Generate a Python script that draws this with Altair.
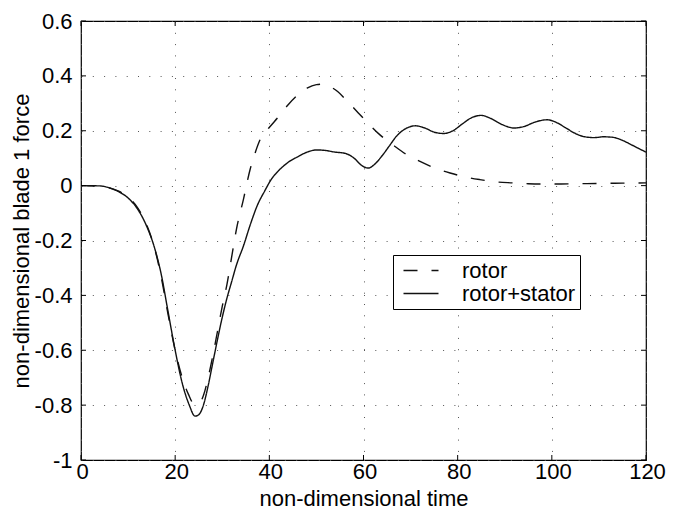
import altair as alt
import pandas as pd

# ---- data ----
series_names = ["rotor", "rotor+stator"]

# rotor+stator (solid line)
rs_t = [0, 4, 6, 8, 10, 12, 14, 15.5, 17, 18.5, 20, 21.5, 23, 24.2, 25, 26, 27, 28, 29, 30,
        31, 32, 33, 34.5, 36, 37.5, 39, 40.5, 42, 44, 46, 48, 50, 52, 54, 56, 58, 59.5, 61,
        62.5, 64, 65.5, 67, 69, 71, 73, 75, 77, 79, 81, 83, 85, 87, 89.5, 92, 94, 96.5, 99,
        101, 103, 105, 107, 109, 111, 113, 115, 117, 118.5, 120]
rs_f = [0.0, -0.001, -0.008, -0.022, -0.045, -0.085, -0.15, -0.22, -0.32, -0.46, -0.60, -0.72,
        -0.80, -0.84, -0.835, -0.80, -0.73, -0.645, -0.56, -0.48, -0.41, -0.35, -0.29, -0.22,
        -0.14, -0.07, -0.02, 0.025, 0.055, 0.085, 0.105, 0.122, 0.13, 0.128, 0.122, 0.118,
        0.10, 0.075, 0.064, 0.08, 0.11, 0.145, 0.18, 0.208, 0.218, 0.21, 0.195, 0.19, 0.20,
        0.225, 0.248, 0.256, 0.245, 0.222, 0.21, 0.215, 0.232, 0.24, 0.23, 0.21, 0.19, 0.178,
        0.175, 0.178, 0.176, 0.165, 0.148, 0.135, 0.122]

# rotor (dashed line)
r_t = [0, 4, 6, 8, 10, 12, 14, 15.5, 17, 18.5, 20, 21.5, 22.8, 24, 25, 26, 27, 28, 29, 30, 31,
       32, 33, 34.5, 35.9, 37, 38, 39.8, 41.9, 44, 46.2, 48, 50, 51.5, 53, 54.5, 56.8, 58.9,
       61.4, 63.5, 66.3, 69, 72, 75, 78.4, 81.5, 84.7, 88, 91.8, 95, 98, 102, 106, 110, 115, 120]
r_f = [0.0, -0.001, -0.008, -0.02, -0.042, -0.08, -0.145, -0.22, -0.33, -0.47, -0.60, -0.70,
       -0.76, -0.795, -0.795, -0.765, -0.70, -0.62, -0.53, -0.44, -0.36, -0.26, -0.16, -0.05,
       0.058, 0.12, 0.166, 0.208, 0.25, 0.295, 0.333, 0.355, 0.368, 0.37, 0.36, 0.343, 0.303,
       0.265, 0.22, 0.185, 0.148, 0.115, 0.088, 0.065, 0.046, 0.032, 0.022, 0.014, 0.01, 0.007,
       0.006, 0.006, 0.007, 0.008, 0.009, 0.01]

x_ticks = [0, 20, 40, 60, 80, 100, 120]
y_ticks = [-1, -0.8, -0.6, -0.4, -0.2, 0, 0.2, 0.4, 0.6]

df = pd.concat([
    pd.DataFrame({"t": r_t, "force": r_f, "series": series_names[0]}),
    pd.DataFrame({"t": rs_t, "force": rs_f, "series": series_names[1]}),
])
xt = pd.DataFrame({"t": x_ticks})
yt = pd.DataFrame({"force": y_ticks})

# ---- styling ----
W, H = 565, 439
FONT = "Liberation Sans"
FS = 22
TICK = 5
INK = "#111111"

x_scale = alt.Scale(domain=[0, 120], nice=False, zero=False)
y_scale = alt.Scale(domain=[-1, 0.6], nice=False, zero=False)

common_axis = dict(
    grid=True, gridDash=[1, 10.3], gridColor="#555555", gridWidth=1,
    tickSize=0, domain=False, labelFlush=False, labelOverlap=False,
    labelFont=FONT, labelFontSize=FS, labelColor="black",
    titleFont=FONT, titleFontSize=FS, titleFontWeight="normal", titleColor="black",
)

x_axis = alt.Axis(values=x_ticks, title="non-dimensional time", labelPadding=1,
                  labelOffset=1, titleY=45, titleBaseline="alphabetic", **common_axis)
y_axis = alt.Axis(values=y_ticks, title="non-dimensional blade 1 force", labelPadding=9,
                  labelExpr="'' + datum.value", titleX=-53, titleY=H / 2,
                  titleAngle=270, titleAlign="center", titleBaseline="alphabetic",
                  **common_axis)

legend = alt.Legend(
    orient="none", legendX=312, legendY=234, title=None,
    strokeColor="black", fillColor="white", padding=4.5, rowPadding=1,
    symbolType="M-2.5,0H2.5", symbolSize=196, symbolStrokeWidth=1.4,
    symbolStrokeColor=INK, symbolOffset=12.5, labelOffset=30,
    labelFont=FONT, labelFontSize=FS, labelColor="black",
    labelExpr="datum.label + '\u00a0\u00a0'",
)

X = alt.X("t:Q", scale=x_scale, axis=x_axis)
Y = alt.Y("force:Q", scale=y_scale, axis=y_axis)

lines = alt.Chart(df).mark_line(color=INK, strokeWidth=1.4, interpolate="monotone").encode(
    x=X, y=Y,
    strokeDash=alt.StrokeDash("series:N",
                              scale=alt.Scale(domain=series_names, range=[[14, 14], [1, 0]]),
                              legend=legend),
)

tick_x_bottom = alt.Chart(xt).mark_rule(color="black", strokeWidth=1).encode(
    x=X, y=alt.value(H), y2=alt.value(H - TICK))
tick_x_top = alt.Chart(xt).mark_rule(color="black", strokeWidth=1).encode(
    x=X, y=alt.value(0), y2=alt.value(TICK))
tick_y_left = alt.Chart(yt).mark_rule(color="black", strokeWidth=1).encode(
    y=Y, x=alt.value(0), x2=alt.value(TICK))
tick_y_right = alt.Chart(yt).mark_rule(color="black", strokeWidth=1).encode(
    y=Y, x=alt.value(W), x2=alt.value(W - TICK))

chart = alt.layer(lines, tick_x_bottom, tick_x_top, tick_y_left, tick_y_right).properties(
    width=W, height=H,
    autosize=alt.AutoSizeParams(type="none"),
    padding={"left": 73, "top": 13, "right": 20, "bottom": 50},
    background="white",
).configure_view(stroke="black", strokeWidth=1.2)

chart.save("out.html", embed_options={"renderer": "svg", "actions": False})
